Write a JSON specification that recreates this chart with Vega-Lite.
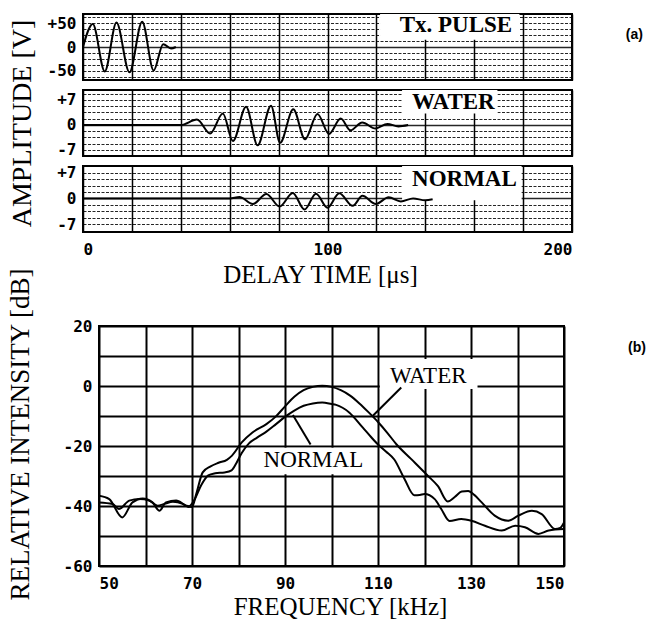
{
  "$schema": "https://vega.github.io/schema/vega-lite/v6.json",
  "background": "white",
  "padding": {"left": 5, "top": 12, "right": 0, "bottom": 0},
  "config": {
    "view": {"stroke": "black", "strokeWidth": 2},
    "axis": {"labelColor": "black", "titleColor": "black", "labelFont": "DejaVu Sans Mono", "labelFontWeight": "bold", "labelFontSize": 16, "titleFont": "Liberation Serif", "titleFontWeight": "normal", "ticks": false, "domain": false}
  },
  "datasets": {
    "tx": [
      {"t": 0, "v": 0}, {"t": 4, "v": 48}, {"t": 8.9, "v": -51}, {"t": 13.7, "v": 51}, {"t": 19, "v": -53}, {"t": 24.2, "v": 53}, {"t": 28.9, "v": -49}, {"t": 32.8, "v": 6}, {"t": 36, "v": -3}, {"t": 38, "v": 0}
    ],
    "water": [
      {"t": 0, "v": 0}, {"t": 40, "v": 0}, {"t": 46.6, "v": 1.5}, {"t": 52, "v": -2.4}, {"t": 57.2, "v": 3.2}, {"t": 61.3, "v": -4.5}, {"t": 66.7, "v": 5.1}, {"t": 71.4, "v": -5.7}, {"t": 76.9, "v": 5.4}, {"t": 80.6, "v": -5.0}, {"t": 86, "v": 4.4}, {"t": 90.8, "v": -4.0}, {"t": 95.9, "v": 3.1}, {"t": 100.6, "v": -2.5}, {"t": 105.4, "v": 1.8}, {"t": 109.4, "v": -1.5}, {"t": 114.2, "v": 0.7}, {"t": 119.6, "v": -1.0}, {"t": 124.5, "v": 0.3}, {"t": 129, "v": -0.4}, {"t": 133, "v": 0}
    ],
    "normal": [
      {"t": 0, "v": 0}, {"t": 60, "v": 0}, {"t": 64, "v": 0.4}, {"t": 69.5, "v": -1.5}, {"t": 75, "v": 1.2}, {"t": 80.4, "v": -2.2}, {"t": 85.8, "v": 1.5}, {"t": 90.6, "v": -3.0}, {"t": 95.3, "v": 1.3}, {"t": 100, "v": -2.5}, {"t": 104.8, "v": 1.4}, {"t": 110.3, "v": -2.0}, {"t": 114.3, "v": 0.7}, {"t": 119.8, "v": -1.5}, {"t": 125, "v": 0.3}, {"t": 130, "v": -0.8}, {"t": 135, "v": 0}, {"t": 140, "v": -0.5}, {"t": 143, "v": -0.2}
    ],
    "spectra": [
      {"s": "WATER", "f": 50, "db": -36.6}, {"s": "WATER", "f": 52.2, "db": -37.7}, {"s": "WATER", "f": 55, "db": -43.8}, {"s": "WATER", "f": 57.2, "db": -38.8}, {"s": "WATER", "f": 59.4, "db": -37.5}, {"s": "WATER", "f": 61.5, "db": -38.8}, {"s": "WATER", "f": 63, "db": -41.6}, {"s": "WATER", "f": 64.4, "db": -38.8}, {"s": "WATER", "f": 66.6, "db": -38.2}, {"s": "WATER", "f": 68.8, "db": -39.9}, {"s": "WATER", "f": 70, "db": -40.3}, {"s": "WATER", "f": 71, "db": -35.5}, {"s": "WATER", "f": 72.3, "db": -28.8}, {"s": "WATER", "f": 74, "db": -26.8}, {"s": "WATER", "f": 75.7, "db": -25.6}, {"s": "WATER", "f": 77.5, "db": -24.6}, {"s": "WATER", "f": 78.6, "db": -23.2}, {"s": "WATER", "f": 80.7, "db": -18.8}, {"s": "WATER", "f": 83, "db": -15.5}, {"s": "WATER", "f": 86, "db": -12.7}, {"s": "WATER", "f": 88, "db": -10.2}, {"s": "WATER", "f": 90, "db": -6.8}, {"s": "WATER", "f": 92, "db": -3.6}, {"s": "WATER", "f": 94, "db": -1.4}, {"s": "WATER", "f": 96, "db": -0.3}, {"s": "WATER", "f": 98, "db": 0.1}, {"s": "WATER", "f": 100, "db": -0.3}, {"s": "WATER", "f": 102, "db": -1.4}, {"s": "WATER", "f": 104, "db": -3.2}, {"s": "WATER", "f": 106, "db": -5.8}, {"s": "WATER", "f": 108, "db": -8.8}, {"s": "WATER", "f": 110, "db": -12}, {"s": "WATER", "f": 112, "db": -15.6}, {"s": "WATER", "f": 114, "db": -19.5}, {"s": "WATER", "f": 117.1, "db": -24.3}, {"s": "WATER", "f": 120.7, "db": -29.9}, {"s": "WATER", "f": 122.9, "db": -33.4}, {"s": "WATER", "f": 125, "db": -38.5}, {"s": "WATER", "f": 126.5, "db": -37}, {"s": "WATER", "f": 128, "db": -35.2}, {"s": "WATER", "f": 129.4, "db": -35}, {"s": "WATER", "f": 130.7, "db": -36.3}, {"s": "WATER", "f": 132.3, "db": -38.8}, {"s": "WATER", "f": 135.1, "db": -43.2}, {"s": "WATER", "f": 138, "db": -44.9}, {"s": "WATER", "f": 140.2, "db": -43.2}, {"s": "WATER", "f": 143.1, "db": -41.6}, {"s": "WATER", "f": 145.2, "db": -42.7}, {"s": "WATER", "f": 148.1, "db": -47.7}, {"s": "WATER", "f": 149.2, "db": -47.3}, {"s": "WATER", "f": 150, "db": -45.5},
      {"s": "NORMAL", "f": 50, "db": -38.8}, {"s": "NORMAL", "f": 52.9, "db": -39.3}, {"s": "NORMAL", "f": 54.3, "db": -41}, {"s": "NORMAL", "f": 56.5, "db": -38.2}, {"s": "NORMAL", "f": 58.7, "db": -37.7}, {"s": "NORMAL", "f": 60.8, "db": -38.2}, {"s": "NORMAL", "f": 62.6, "db": -39.9}, {"s": "NORMAL", "f": 64.1, "db": -39.3}, {"s": "NORMAL", "f": 65.9, "db": -38.6}, {"s": "NORMAL", "f": 68, "db": -39.3}, {"s": "NORMAL", "f": 69.2, "db": -40.3}, {"s": "NORMAL", "f": 70.5, "db": -38}, {"s": "NORMAL", "f": 72, "db": -33}, {"s": "NORMAL", "f": 73.5, "db": -29.8}, {"s": "NORMAL", "f": 75, "db": -29.1}, {"s": "NORMAL", "f": 77, "db": -28.8}, {"s": "NORMAL", "f": 78.5, "db": -28.1}, {"s": "NORMAL", "f": 79.5, "db": -25.8}, {"s": "NORMAL", "f": 80.7, "db": -22.3}, {"s": "NORMAL", "f": 82.2, "db": -19.2}, {"s": "NORMAL", "f": 84, "db": -17.2}, {"s": "NORMAL", "f": 86, "db": -15.2}, {"s": "NORMAL", "f": 88, "db": -12.8}, {"s": "NORMAL", "f": 90, "db": -10.3}, {"s": "NORMAL", "f": 92, "db": -8.2}, {"s": "NORMAL", "f": 94, "db": -6.6}, {"s": "NORMAL", "f": 96, "db": -5.8}, {"s": "NORMAL", "f": 98, "db": -5.5}, {"s": "NORMAL", "f": 100, "db": -6}, {"s": "NORMAL", "f": 101, "db": -6.3}, {"s": "NORMAL", "f": 103.8, "db": -8.8}, {"s": "NORMAL", "f": 106.7, "db": -13.8}, {"s": "NORMAL", "f": 108.5, "db": -17}, {"s": "NORMAL", "f": 110, "db": -19.5}, {"s": "NORMAL", "f": 111.7, "db": -21.8}, {"s": "NORMAL", "f": 113.5, "db": -24.5}, {"s": "NORMAL", "f": 115.7, "db": -31}, {"s": "NORMAL", "f": 117.8, "db": -36.4}, {"s": "NORMAL", "f": 119, "db": -36.3}, {"s": "NORMAL", "f": 120, "db": -36}, {"s": "NORMAL", "f": 122.2, "db": -37.7}, {"s": "NORMAL", "f": 123.6, "db": -41}, {"s": "NORMAL", "f": 125.4, "db": -45}, {"s": "NORMAL", "f": 127.9, "db": -44.3}, {"s": "NORMAL", "f": 130.1, "db": -44.9}, {"s": "NORMAL", "f": 133, "db": -46.6}, {"s": "NORMAL", "f": 136.6, "db": -48.2}, {"s": "NORMAL", "f": 139.5, "db": -46.6}, {"s": "NORMAL", "f": 141.6, "db": -47.1}, {"s": "NORMAL", "f": 144.5, "db": -49.3}, {"s": "NORMAL", "f": 146.7, "db": -48.2}, {"s": "NORMAL", "f": 150, "db": -47.7}
    ]
  },
  "spacing": -22,
  "vconcat": [
    {
      "spacing": 10,
      "bounds": "flush",
      "vconcat": [
        {
          "width": 489, "height": 66,
          "encoding": {
            "x": {"field": "t", "type": "quantitative", "scale": {"domain": [0, 200]}, "axis": {"values": [0, 20, 40, 60, 80, 100, 120, 140, 160, 180, 200], "labels": false, "title": null, "grid": true, "gridColor": "black", "gridWidth": 1.5, "gridOpacity": 1}},
            "y": {"field": "v", "type": "quantitative", "scale": {"domain": [-69, 69]}, "axis": {"values": [-62.5, -50, -37.5, -25, -12.5, 0, 12.5, 25, 37.5, 50, 62.5], "labelExpr": "datum.value === 50 ? '+50' : datum.value === 0 ? '0' : datum.value === -50 ? '-50' : ''", "title": null, "labelPadding": 7, "grid": true, "gridColor": "black", "gridOpacity": 0.85, "gridWidth": {"condition": {"test": "datum.value === 0", "value": 1.6}, "value": 1}, "gridDash": {"condition": {"test": "datum.value === 0", "value": [1, 0]}, "value": [3, 1.5]}}}
          },
          "layer": [
            {
              "data": {"values": [{"t": 121.5, "t2": 178.5, "v": 69, "v2": 15}]},
              "mark": {"type": "rect", "fill": "white"},
              "encoding": {"x2": {"field": "t2"}, "y2": {"field": "v2"}}
            },
            {
              "data": {"name": "tx"},
              "mark": {"type": "line", "color": "black", "strokeWidth": 2, "interpolate": "monotone"}
            },
            {
              "data": {"values": [{"t": 152.5, "v": 46, "label": "Tx. PULSE"}]},
              "mark": {"type": "text", "font": "Liberation Serif", "fontWeight": "bold", "fontSize": 23, "align": "center", "baseline": "middle", "color": "black"},
              "encoding": {"text": {"field": "label"}}
            },
            {
              "data": {"values": [{"t": 225.5, "v": 25, "label": "(a)"}]},
              "mark": {"type": "text", "font": "Liberation Sans", "fontWeight": "bold", "fontSize": 14, "align": "center", "baseline": "middle", "color": "black"},
              "encoding": {"text": {"field": "label"}}
            }
          ]
        },
        {
          "width": 489, "height": 66,
          "encoding": {
            "x": {"field": "t", "type": "quantitative", "scale": {"domain": [0, 200]}, "axis": {"values": [0, 20, 40, 60, 80, 100, 120, 140, 160, 180, 200], "labels": false, "title": null, "grid": true, "gridColor": "black", "gridWidth": 1.5, "gridOpacity": 1}},
            "y": {"field": "v", "type": "quantitative", "scale": {"domain": [-8.7, 9.8]}, "axis": {"values": [-7, -5.25, -3.5, -1.75, 0, 1.75, 3.5, 5.25, 7, 8.75], "labelExpr": "datum.value === 7 ? '+7' : datum.value === 0 ? '0' : datum.value === -7 ? '-7' : ''", "title": "AMPLITUDE [V]", "titleFontSize": 28, "titlePadding": 20, "labelPadding": 7, "grid": true, "gridColor": "black", "gridOpacity": 0.85, "gridWidth": {"condition": {"test": "datum.value === 0", "value": 1.6}, "value": 1}, "gridDash": {"condition": {"test": "datum.value === 0", "value": [1, 0]}, "value": [3, 1.5]}}}
          },
          "layer": [
            {
              "data": {"values": [{"t": 130.5, "t2": 169.5, "v": 9.8, "v2": 3.2}]},
              "mark": {"type": "rect", "fill": "white"},
              "encoding": {"x2": {"field": "t2"}, "y2": {"field": "v2"}}
            },
            {
              "data": {"name": "water"},
              "mark": {"type": "line", "color": "black", "strokeWidth": 2, "interpolate": "monotone"}
            },
            {
              "data": {"values": [{"t": 151.5, "v": 6.4, "label": "WATER"}]},
              "mark": {"type": "text", "font": "Liberation Serif", "fontWeight": "bold", "fontSize": 23, "align": "center", "baseline": "middle", "color": "black"},
              "encoding": {"text": {"field": "label"}}
            }
          ]
        },
        {
          "width": 489, "height": 66,
          "encoding": {
            "x": {"field": "t", "type": "quantitative", "scale": {"domain": [0, 200]}, "axis": {"values": [0, 20, 40, 60, 80, 100, 120, 140, 160, 180, 200], "labelExpr": "datum.value % 100 === 0 ? datum.label : ''", "labelFlush": true, "labelPadding": 9, "title": "DELAY TIME [μs]", "titleFontSize": 25, "titlePadding": 5, "titleX": 237, "grid": true, "gridColor": "black", "gridWidth": 1.5, "gridOpacity": 1}},
            "y": {"field": "v", "type": "quantitative", "scale": {"domain": [-9.1, 8.8]}, "axis": {"values": [-8.75, -7, -5.25, -3.5, -1.75, 0, 1.75, 3.5, 5.25, 7, 8.75], "labelExpr": "datum.value === 7 ? '+7' : datum.value === 0 ? '0' : datum.value === -7 ? '-7' : ''", "title": null, "labelPadding": 7, "grid": true, "gridColor": "black", "gridOpacity": 0.85, "gridWidth": {"condition": {"test": "datum.value === 0", "value": 1.6}, "value": 1}, "gridDash": {"condition": {"test": "datum.value === 0", "value": [1, 0]}, "value": [3, 1.5]}}}
          },
          "layer": [
            {
              "data": {"values": [{"t": 130.5, "t2": 179.4, "v": 8.8, "v2": -0.5}]},
              "mark": {"type": "rect", "fill": "white"},
              "encoding": {"x2": {"field": "t2"}, "y2": {"field": "v2"}}
            },
            {
              "data": {"name": "normal"},
              "mark": {"type": "line", "color": "black", "strokeWidth": 2, "interpolate": "monotone"}
            },
            {
              "data": {"values": [{"t": 156, "v": 5.3, "label": "NORMAL"}]},
              "mark": {"type": "text", "font": "Liberation Serif", "fontWeight": "bold", "fontSize": 23, "align": "center", "baseline": "middle", "color": "black"},
              "encoding": {"text": {"field": "label"}}
            }
          ]
        }
      ]
    },
    {
      "spacing": -82,
      "hconcat": [
        {
          "width": 1, "height": 1,
          "view": {"stroke": null},
          "data": {"values": [{"k": 0}]},
          "mark": {"type": "point", "opacity": 0},
          "encoding": {}
        },
        {
          "width": 465, "height": 240,
          "encoding": {
            "x": {"field": "f", "type": "quantitative", "scale": {"domain": [50, 150]}, "axis": {"values": [50, 60, 70, 80, 90, 100, 110, 120, 130, 140, 150], "labelExpr": "(datum.value - 50) % 20 === 0 ? datum.label : ''", "labelPadding": 9, "title": "FREQUENCY [kHz]", "titleFontSize": 25, "titlePadding": 3, "titleX": 241, "grid": true, "gridColor": "black", "gridWidth": 2, "gridOpacity": 1}},
            "y": {"field": "db", "type": "quantitative", "scale": {"domain": [-60, 20]}, "axis": {"values": [-60, -50, -40, -30, -20, -10, 0, 10, 20], "labelExpr": "datum.value % 20 === 0 ? (datum.value < 0 ? '-' + (-datum.value) : '' + datum.value) : ''", "labelPadding": 7, "title": "RELATIVE INTENSITY [dB]", "titleFontSize": 27, "titlePadding": 29, "titleY": 108, "grid": true, "gridColor": "black", "gridWidth": 2, "gridOpacity": 1}}
          },
          "layer": [
            {
              "data": {"values": [{"f": 110.4, "f2": 131.4, "db": 9, "db2": -1}, {"f": 82.7, "f2": 109.7, "db": -20.6, "db2": -29.4}]},
              "mark": {"type": "rect", "fill": "white"},
              "encoding": {"x2": {"field": "f2"}, "y2": {"field": "db2"}}
            },
            {
              "data": {"values": [{"f": 115, "db": -0.5, "f2": 108.9, "db2": -9.9}, {"f": 95.5, "db": -19.5, "f2": 91.7, "db2": -9.7}]},
              "mark": {"type": "rule", "color": "black", "strokeWidth": 2},
              "encoding": {"x2": {"field": "f2"}, "y2": {"field": "db2"}}
            },
            {
              "data": {"name": "spectra"},
              "mark": {"type": "line", "color": "black", "strokeWidth": 2, "interpolate": "monotone"},
              "encoding": {"detail": {"field": "s"}}
            },
            {
              "data": {"values": [{"f": 120.8, "db": 3.3, "label": "WATER"}, {"f": 96.1, "db": -24.7, "label": "NORMAL"}]},
              "mark": {"type": "text", "font": "Liberation Serif", "fontSize": 23, "align": "center", "baseline": "middle", "color": "black"},
              "encoding": {"text": {"field": "label"}}
            },
            {
              "data": {"values": [{"f": 165.7, "db": 12.7, "label": "(b)"}]},
              "mark": {"type": "text", "font": "Liberation Sans", "fontWeight": "bold", "fontSize": 14, "align": "center", "baseline": "middle", "color": "black"},
              "encoding": {"text": {"field": "label"}}
            }
          ]
        }
      ]
    }
  ]
}
